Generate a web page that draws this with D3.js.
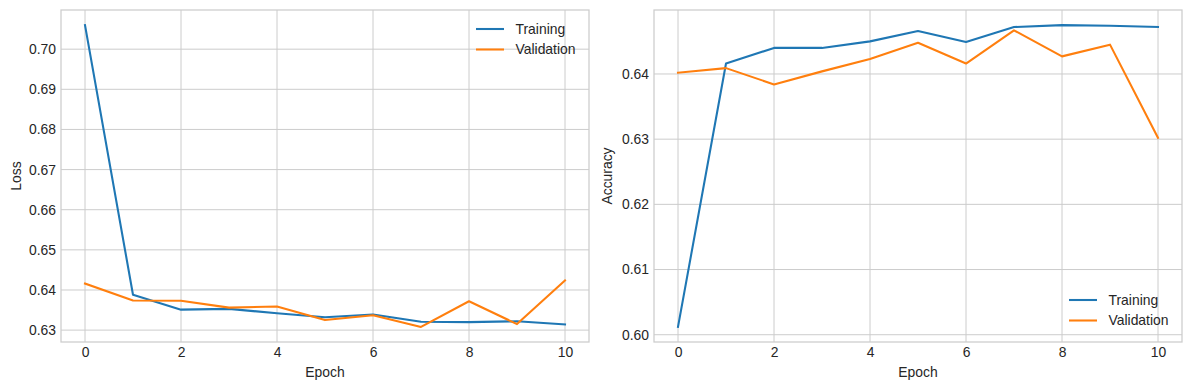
<!DOCTYPE html>
<html><head><meta charset="utf-8">
<script src="https://cdn.jsdelivr.net/npm/d3@7/dist/d3.min.js"></script>
<style>
body{margin:0;background:#fff;}
svg text{font-family:"Liberation Sans",Arial,sans-serif;fill:#262626;}
</style></head>
<body><svg id="c" width="1189" height="390"></svg>
<script>
const epochs = [0,1,2,3,4,5,6,7,8,9,10];
const lossTrain = [0.7060,0.6388,0.6351,0.6353,0.6342,0.6332,0.6339,0.6321,0.6320,0.6322,0.6314];
const lossVal   = [0.6416,0.6374,0.6373,0.6356,0.6359,0.6325,0.6337,0.6308,0.6372,0.6315,0.6424];
const accTrain  = [0.6012,0.6416,0.6440,0.6440,0.6450,0.6466,0.6449,0.6472,0.6475,0.6474,0.6472];
const accVal    = [0.6402,0.6409,0.6384,0.6404,0.6423,0.6448,0.6416,0.6467,0.6427,0.6445,0.6302];
const xTicks = [0,2,4,6,8,10];
const lossTicks = [0.63,0.64,0.65,0.66,0.67,0.68,0.69,0.70];
const accTicks = [0.60,0.61,0.62,0.63,0.64];
const seriesNames = ["Training","Validation"];
const colors = ["#1f77b4","#ff7f0e"];

const svg = d3.select("#c");
const FS = 13.9;

function panel(opt){
  const {left,right,top,bottom,train,val,yTicks,ylabel,ylabelX,legendPos} = opt;
  const all = train.concat(val);
  const mn = d3.min(all), mx = d3.max(all), pad = (mx-mn)*0.05;
  const x = d3.scaleLinear().domain([-0.5,10.5]).range([left,right]);
  const y = d3.scaleLinear().domain([mn-pad,mx+pad]).range([bottom,top]);
  const g = svg.append("g");
  g.selectAll(".gx").data(xTicks).enter().append("line")
    .attr("x1",d=>x(d)).attr("x2",d=>x(d)).attr("y1",top).attr("y2",bottom)
    .attr("stroke","#cccccc").attr("stroke-width",1);
  g.selectAll(".gy").data(yTicks).enter().append("line")
    .attr("y1",d=>y(d)).attr("y2",d=>y(d)).attr("x1",left).attr("x2",right)
    .attr("stroke","#cccccc").attr("stroke-width",1);
  g.append("rect").attr("x",left).attr("y",top).attr("width",right-left).attr("height",bottom-top)
    .attr("fill","none").attr("stroke","#cccccc").attr("stroke-width",1.25);
  const xa = g.append("g").attr("transform",`translate(0,${bottom})`)
    .call(d3.axisBottom(x).tickValues(xTicks).tickSize(0).tickPadding(5).tickFormat(d3.format("d")));
  xa.select(".domain").remove();
  xa.selectAll("text").attr("font-size",FS).attr("dy","0.71em");
  const ya = g.append("g").attr("transform",`translate(${left},0)`)
    .call(d3.axisLeft(y).tickValues(yTicks).tickSize(0).tickPadding(5).tickFormat(d3.format(".2f")));
  ya.select(".domain").remove();
  ya.selectAll("text").attr("font-size",FS);
  g.append("text").attr("x",(left+right)/2).attr("y",377).attr("text-anchor","middle")
    .attr("font-size",FS).text("Epoch");
  g.append("text").attr("transform",`translate(${ylabelX},${(top+bottom)/2}) rotate(-90)`)
    .attr("text-anchor","middle").attr("font-size",FS).text(ylabel);
  const line = d3.line().x((d,i)=>x(epochs[i])).y(d=>y(d));
  [train,val].forEach((s,i)=>{
    g.append("path").datum(s).attr("d",line).attr("fill","none")
      .attr("stroke",colors[i]).attr("stroke-width",2.08)
      .attr("stroke-linejoin","round").attr("stroke-linecap","square");
  });
  seriesNames.forEach((n,i)=>{
    const ly = legendPos.y + i*20.5;
    g.append("line").attr("x1",legendPos.x).attr("x2",legendPos.x+28).attr("y1",ly).attr("y2",ly)
      .attr("stroke",colors[i]).attr("stroke-width",2.08);
    g.append("text").attr("x",legendPos.x+39.5).attr("y",ly).attr("dy","0.35em")
      .attr("font-size",FS).text(n);
  });
}

panel({left:61,right:589,top:10,bottom:342,train:lossTrain,val:lossVal,yTicks:lossTicks,
  ylabel:"Loss",ylabelX:21,legendPos:{x:476,y:29}});
panel({left:654,right:1182,top:10,bottom:342,train:accTrain,val:accVal,yTicks:accTicks,
  ylabel:"Accuracy",ylabelX:612,legendPos:{x:1069,y:300}});
</script></body></html>
